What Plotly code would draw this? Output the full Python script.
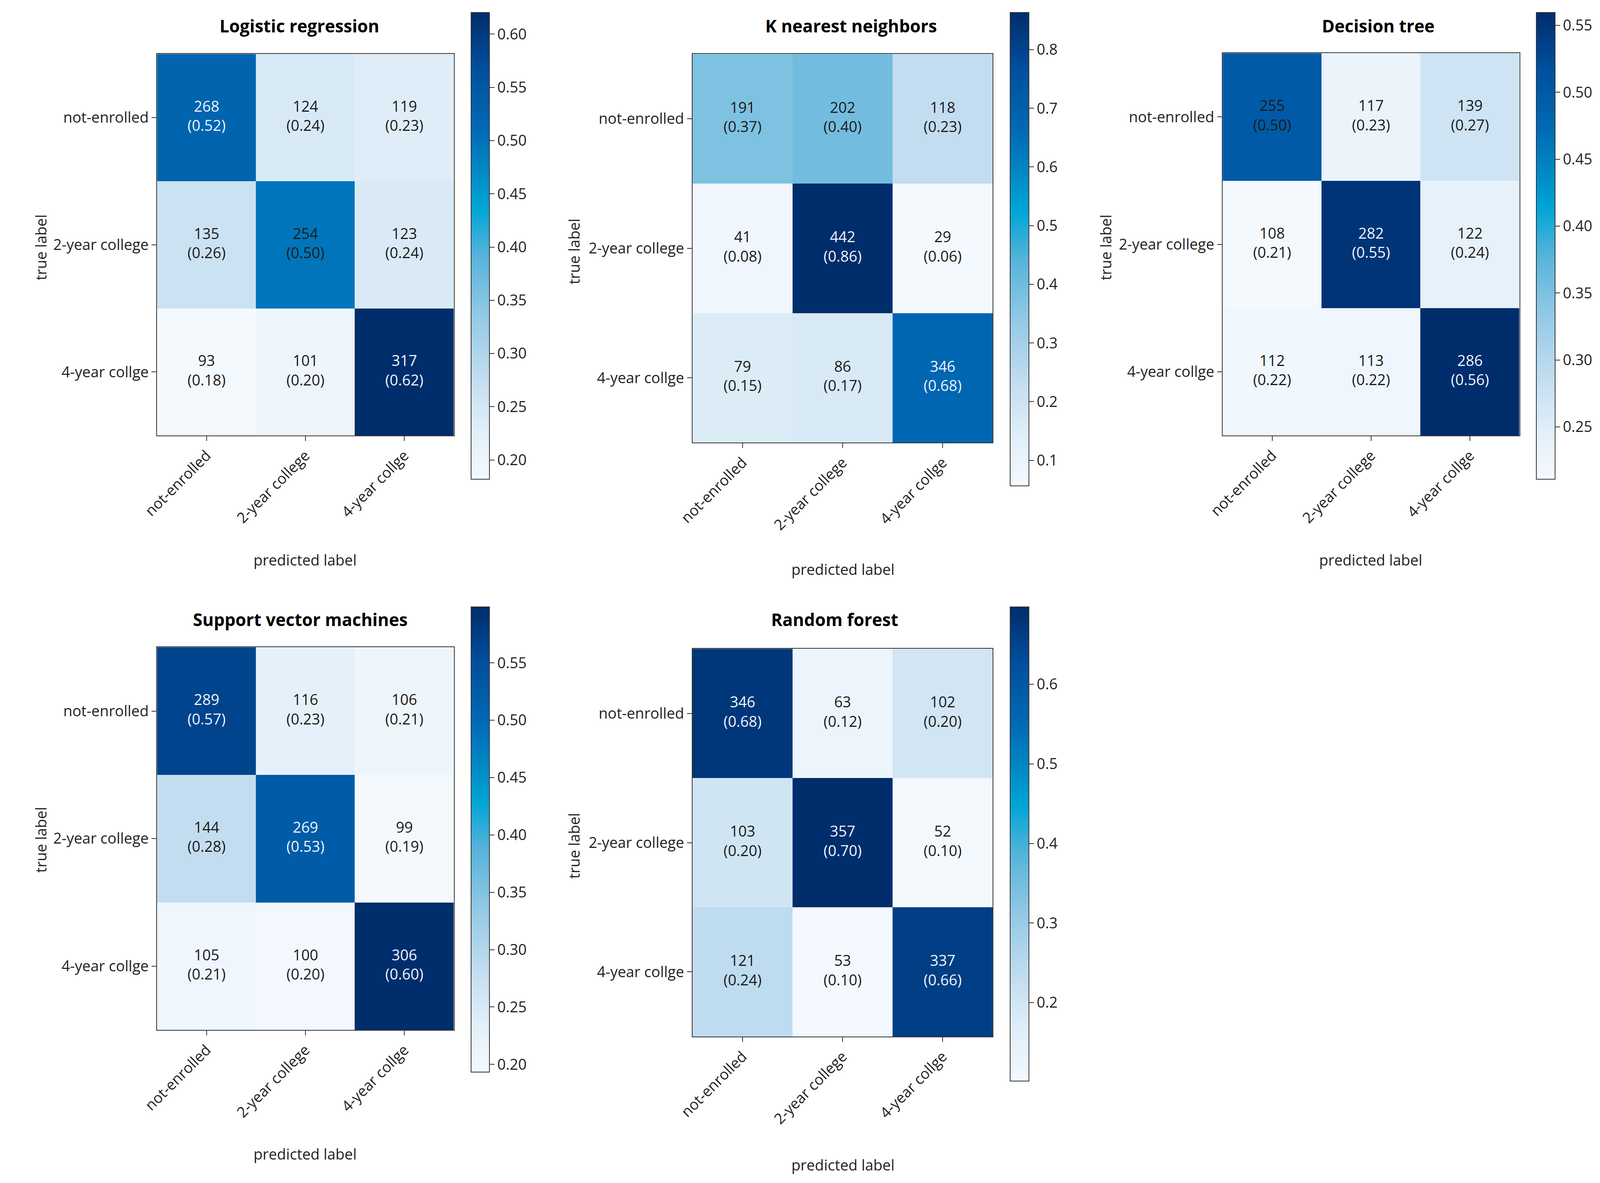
import plotly.graph_objects as go

# Data
labels = ["not-enrolled", "2-year college", "4-year collge"]
titles = ["Logistic regression", "K nearest neighbors", "Decision tree",
          "Support vector machines", "Random forest"]

lr_counts = [[268, 124, 119], [135, 254, 123], [93, 101, 317]]
knn_counts = [[191, 202, 118], [41, 442, 29], [79, 86, 346]]
dt_counts = [[255, 117, 139], [108, 282, 122], [112, 113, 286]]
svm_counts = [[289, 116, 106], [144, 269, 99], [105, 100, 306]]
rf_counts = [[346, 63, 102], [103, 357, 52], [121, 53, 337]]

all_counts = [lr_counts, knn_counts, dt_counts, svm_counts, rf_counts]

# colorbar tick settings per panel
cbar_dtick = [0.05, 0.1, 0.05, 0.05, 0.1]
cbar_format = [".2f", ".1f", ".2f", ".2f", ".1f"]

# reference picture size (positions below are measured in it)
RW, RH = 4517, 3029
# the page is shown in a 4096 px wide window, so draw to fit it
FW, FH = 4080, 3013

heat_box = [(392, 1242, 131, 1113), (1926, 2786, 131, 1131), (3445, 4295, 129, 1113),
            (392, 1242, 1658, 2643), (1926, 2786, 1662, 2660)]
cbar_box = [(1292, 1344, 24, 1225), (2836, 2889, 24, 1242), (4343, 4396, 24, 1225),
            (1292, 1344, 1554, 2751), (2836, 2889, 1554, 2774)]
title_pos = [(800, 58), (2381, 58), (3891, 58), (802, 1586), (2333, 1586)]
xlab_pos = [(816, 1433), (2357, 1457), (3869, 1433), (816, 2962), (2357, 2990)]
ylab_pos = [(58, 629), (1585, 639), (3109, 629), (58, 2154), (1585, 2169)]

blues = [
    [0.0, "#f4f9fe"],
    [0.1, "#e2eff9"],
    [0.216, "#c3ddf0"],
    [0.35, "#93c9e5"],
    [0.48, "#55b3da"],
    [0.58, "#00a5d5"],
    [0.66, "#0088c6"],
    [0.75, "#006ab4"],
    [0.88, "#004f9e"],
    [1.0, "#002d6c"],
]

FONT = "Open Sans"
fs = 38
sx = FW / RW

fig = go.Figure()
annotations = []

for i, counts in enumerate(all_counts):
    n = i + 1
    normed = [[c / sum(row) for c in row] for row in counts]
    flat = [v for row in normed for v in row]
    zmin, zmax = min(flat), max(flat)

    x0, x1, y0, y1 = heat_box[i]
    cx0, cx1, cy0, cy1 = cbar_box[i]

    fig.add_trace(go.Heatmap(
        z=normed, x=labels, y=labels,
        colorscale=blues, zmin=zmin, zmax=zmax,
        xaxis=f"x{n}", yaxis=f"y{n}",
        hoverinfo="skip",
        colorbar=dict(
            x=cx0 / RW, xanchor="left", y=1 - cy0 / RH, yanchor="top",
            len=(cy1 - cy0) / RH, lenmode="fraction",
            thickness=round((cx1 - cx0) * sx), thicknessmode="pixels",
            xpad=0, ypad=0, outlinewidth=2, outlinecolor="#333333",
            ticks="outside", ticklen=12, tickwidth=2, tickcolor="#333333",
            tick0=0, dtick=cbar_dtick[i], tickformat=cbar_format[i],
            tickfont=dict(size=fs, family=FONT, color="#222222"),
        ),
    ))

    tx, ty, tt, tc = [], [], [], []
    for r in range(3):
        for c in range(3):
            tx.append(labels[c])
            ty.append(labels[r])
            tt.append(f"{counts[r][c]}<br>({normed[r][c]:.2f})")
            tc.append("#eef6ff" if normed[r][c] > 0.5 else "#1a1a1a")
    fig.add_trace(go.Scatter(
        x=tx, y=ty, text=tt, mode="text",
        textfont=dict(size=fs, family=FONT, color=tc),
        xaxis=f"x{n}", yaxis=f"y{n}", showlegend=False, hoverinfo="skip",
    ))

    axis_common = dict(showline=True, mirror=True, linecolor="#333333", linewidth=2,
                       ticks="outside", ticklen=12, tickwidth=2, tickcolor="#333333",
                       showgrid=False, zeroline=False,
                       tickfont=dict(size=fs, family=FONT, color="#222222"))
    fig.layout[f"xaxis{n}"] = dict(domain=[x0 / RW, x1 / RW], anchor=f"y{n}",
                                   tickangle=-45, categoryorder="array",
                                   categoryarray=labels, **axis_common)
    fig.layout[f"yaxis{n}"] = dict(domain=[1 - y1 / RH, 1 - y0 / RH], anchor=f"x{n}",
                                   autorange="reversed", categoryorder="array",
                                   categoryarray=labels, **axis_common)

    annotations.append(dict(text=f"<b>{titles[i]}</b>", x=title_pos[i][0] / RW,
                            y=1 - title_pos[i][1] / RH, xref="paper", yref="paper",
                            showarrow=False, xanchor="center", yanchor="middle",
                            font=dict(size=44, family=FONT, color="#000000")))
    annotations.append(dict(text="predicted label", x=xlab_pos[i][0] / RW,
                            y=1 - xlab_pos[i][1] / RH, xref="paper", yref="paper",
                            showarrow=False, xanchor="center", yanchor="middle",
                            font=dict(size=fs, family=FONT, color="#222222")))
    annotations.append(dict(text="true label", x=ylab_pos[i][0] / RW,
                            y=1 - ylab_pos[i][1] / RH, xref="paper", yref="paper",
                            showarrow=False, xanchor="center", yanchor="middle",
                            textangle=-90,
                            font=dict(size=fs, family=FONT, color="#222222")))

fig.update_layout(
    width=FW, height=FH,
    margin=dict(l=0, r=0, t=0, b=0),
    paper_bgcolor="white", plot_bgcolor="white",
    showlegend=False,
    annotations=annotations,
    font=dict(family=FONT),
)

fig.write_html("out.html")
